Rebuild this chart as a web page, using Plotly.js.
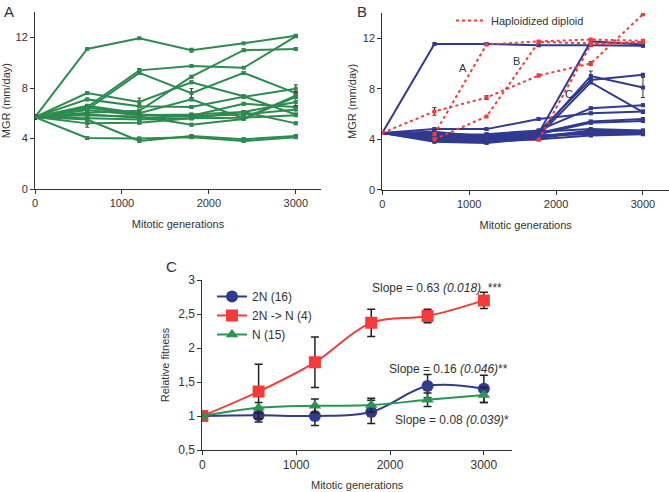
<!DOCTYPE html>
<html><head><meta charset="utf-8">
<script src="https://cdn.plot.ly/plotly-3.0.1.min.js"></script>
<style>html,body{margin:0;padding:0;background:#fff}#chart{width:669px;height:492px}</style>
</head><body><div id="chart"></div>
<script>
// ---------- data ----------
const generations = [0, 600, 1200, 1800, 2400, 3000];

// Panel A: haploid lines (N, 15), MGR mm/day
const haploidMGR = [
  [5.7, 11.1, 11.95, 11.0, 11.55, 12.15],
  [5.7, 6.5, 9.4, 9.75, 9.6, 12.1],
  [5.7, 6.3, 9.2, 7.6, 9.2, 7.6],
  [5.7, 6.05, 6.2, 8.9, 11.0, 11.1],
  [5.7, 7.6, 6.9, 8.45, 7.35, 5.9],
  [5.7, 7.1, 6.55, 6.5, 7.3, 7.95],
  [5.7, 6.6, 6.0, 7.1, 5.6, 7.4],
  [5.7, 6.45, 5.9, 5.8, 6.75, 6.5],
  [5.7, 6.25, 5.85, 5.9, 6.1, 6.9],
  [5.7, 5.9, 5.65, 5.75, 5.9, 6.3],
  [5.7, 5.85, 5.75, 5.1, 5.55, 7.3],
  [5.7, 5.6, 5.5, 5.6, 5.65, 5.85],
  [5.7, 5.2, 5.25, 5.6, 6.1, 5.2],
  [5.7, 5.5, 3.8, 4.2, 3.95, 4.2],
  [5.7, 4.05, 4.0, 4.1, 3.8, 4.1]
];
const haploidErr = [
  [0.15, 0.05, 0.05, 0.15, 0.05, 0.05],
  [0.15, 0.1, 0.15, 0.05, 0.05, 0.1],
  [0.15, 0.1, 0.1, 0.35, 0.1, 0.1],
  [0.15, 0.1, 0.1, 0.1, 0.1, 0.1],
  [0.15, 0.1, 0.3, 0.1, 0.1, 0.1],
  [0.15, 0.1, 0.1, 0.1, 0.1, 0.3],
  [0.15, 0.1, 0.1, 0.1, 0.1, 0.1],
  [0.15, 0.1, 0.1, 0.1, 0.1, 0.1],
  [0.15, 0.1, 0.1, 0.1, 0.1, 0.3],
  [0.15, 0.1, 0.1, 0.1, 0.1, 0.1],
  [0.15, 0.1, 0.1, 0.1, 0.1, 0.1],
  [0.15, 0.1, 0.1, 0.1, 0.1, 0.1],
  [0.15, 0.3, 0.1, 0.1, 0.1, 0.1],
  [0.15, 0.1, 0.1, 0.1, 0.1, 0.1],
  [0.15, 0.1, 0.1, 0.1, 0.1, 0.1]
];

// Panel B: diploid lines (2N, 16)
const diploidMGR = [
  [4.5, 11.55, 11.55, 11.45, 11.45, 11.4],
  [4.5, 4.4, 4.3, 4.5, 11.75, 11.5],
  [4.5, 4.1, 4.0, 4.4, 9.0, 8.1],
  [4.5, 4.2, 3.9, 4.6, 8.7, 9.1],
  [4.5, 4.0, 4.2, 4.3, 8.5, 6.15],
  [4.5, 4.8, 4.8, 5.6, 6.05, 6.2],
  [4.5, 4.3, 4.4, 4.7, 6.45, 6.7],
  [4.5, 4.6, 4.2, 4.5, 5.4, 5.6],
  [4.5, 4.4, 4.1, 4.4, 5.3, 5.45],
  [4.5, 4.0, 3.8, 4.2, 4.7, 4.6],
  [4.5, 3.8, 3.7, 4.1, 4.6, 4.55],
  [4.5, 4.3, 4.0, 4.3, 4.5, 4.5],
  [4.5, 4.2, 4.1, 4.3, 4.4, 4.45],
  [4.5, 3.9, 3.8, 4.0, 4.3, 4.4],
  [4.5, 4.5, 4.3, 4.6, 4.8, 4.7],
  [4.5, 4.1, 3.9, 4.2, 4.6, 4.5]
];
const diploidErr = [
  [0, 0.1, 0.1, 0.1, 0.1, 0.1],
  [0, 0.1, 0.1, 0.1, 0.1, 0.1],
  [0, 0.1, 0.1, 0.1, 0.4, 0.8],
  [0, 0.1, 0.1, 0.1, 0.1, 0.1],
  [0, 0.1, 0.1, 0.1, 0.1, 0.1],
  [0, 0.1, 0.1, 0.1, 0.1, 0.1],
  [0, 0.1, 0.1, 0.1, 0.1, 0.1],
  [0, 0.1, 0.1, 0.1, 0.1, 0.1],
  [0, 0.1, 0.1, 0.1, 0.1, 0.1],
  [0, 0.1, 0.1, 0.1, 0.1, 0.1],
  [0, 0.1, 0.1, 0.1, 0.1, 0.1],
  [0, 0.1, 0.1, 0.1, 0.1, 0.1],
  [0, 0.1, 0.1, 0.1, 0.1, 0.1],
  [0, 0.1, 0.1, 0.1, 0.1, 0.1],
  [0, 0.1, 0.1, 0.1, 0.1, 0.1],
  [0, 0.1, 0.1, 0.1, 0.1, 0.1]
];

// Panel B: haploidized diploids (diploid phase solid, haploid phase dotted)
const preA_x = [0, 600],               preA_y = [4.5, 4.4];
const preB_x = [0, 600],               preB_y = [4.5, 4.0];
const preC_x = [0, 600, 1200, 1800],   preC_y = [4.5, 4.25, 4.1, 3.95];
const hapA_x = [600, 1200, 1800, 2400, 3000], hapA_y = [4.4, 11.5, 11.75, 11.9, 11.8];
const hapB_x = [600, 1200, 1800, 2400, 3000], hapB_y = [4.0, 5.8, 11.7, 11.6, 11.7];
const hapC_x = [1800, 2400, 3000],     hapC_y = [3.95, 11.5, 11.7];
const hapD_x = [0, 600, 1200, 1800, 2400, 3000], hapD_y = [4.5, 6.2, 7.3, 9.05, 10.0, 13.9];
const hapD_err = [0, 0.3, 0.15, 0.1, 0.15, 0.1];
const hapLabels = ['A', 'B', 'C'];
const hapLabelX = [930, 1550, 2145];
const hapLabelY = [9.65, 10.2, 7.55];

// Panel C: relative fitness
const fit2N   = [1.0, 1.01, 1.0, 1.06, 1.44, 1.40];
const err2N   = [0, 0.1, 0.14, 0.17, 0.17, 0.2];
const fitHap  = [1.0, 1.36, 1.79, 2.37, 2.47, 2.70];
const errHap  = [0, 0.4, 0.37, 0.2, 0.1, 0.12];
const fitN    = [1.0, 1.12, 1.15, 1.16, 1.24, 1.31];
const errN    = [0, 0.08, 0.1, 0.1, 0.1, 0.11];
const fitNames = ['2N (16)', '2N -> N (4)', 'N (15)'];
const fitTickVals = [0.5, 1, 1.5, 2, 2.5, 3];
const fitTickText = ['0,5', '1', '1,5', '2', '2,5', '3'];

// ---------- styles ----------
const FONT = 'Liberation Sans, Arial, sans-serif';
const TXT = '#333';
const GREEN = '#2e8b4f';
const NAVY = '#313a8f';
const RED = '#f43a3a';
const ERRC = '#333';

const traces = [];

haploidMGR.forEach((ys, i) => {
  traces.push({
    x: generations, y: ys, xaxis: 'x', yaxis: 'y', type: 'scatter', mode: 'lines+markers',
    line: {color: GREEN, width: 2}, marker: {symbol: 'square', size: 4, color: GREEN},
    error_y: {type: 'data', array: haploidErr[i], color: ERRC, thickness: 1, width: 2},
    showlegend: false, hoverinfo: 'skip'
  });
});

[[preA_x, preA_y], [preB_x, preB_y], [preC_x, preC_y]].forEach(([xs, ys]) => {
  traces.push({x: xs, y: ys, xaxis: 'x2', yaxis: 'y2', mode: 'lines',
    line: {color: RED, width: 2}, showlegend: false, hoverinfo: 'skip'});
});

diploidMGR.forEach((ys, i) => {
  traces.push({
    x: generations, y: ys, xaxis: 'x2', yaxis: 'y2', type: 'scatter', mode: 'lines+markers',
    line: {color: NAVY, width: 2}, marker: {symbol: 'square', size: 4, color: NAVY},
    error_y: {type: 'data', array: diploidErr[i], color: ERRC, thickness: 1, width: 2},
    showlegend: false, hoverinfo: 'skip'
  });
});

[[hapA_x, hapA_y, null], [hapB_x, hapB_y, null], [hapC_x, hapC_y, null], [hapD_x, hapD_y, hapD_err]].forEach(([xs, ys, e]) => {
  const t = {x: xs, y: ys, xaxis: 'x2', yaxis: 'y2', mode: 'lines+markers',
    line: {color: RED, width: 2, dash: 'dot'}, marker: {symbol: 'square', size: 4, color: RED},
    showlegend: false, hoverinfo: 'skip'};
  if (e) t.error_y = {type: 'data', array: e, color: ERRC, thickness: 1, width: 2};
  traces.push(t);
});
// legend-only entry (no data) for panel B
traces.push({x: [null], y: [null], xaxis: 'x2', yaxis: 'y2', mode: 'lines', name: 'Haploidized diploid',
  line: {color: RED, width: 2, dash: 'dot'}, legend: 'legend2', showlegend: true, hoverinfo: 'skip'});

const cSeries = [
  {y: fit2N, e: err2N, color: NAVY, sym: 'circle', size: 12},
  {y: fitHap, e: errHap, color: RED, sym: 'square', size: 12},
  {y: fitN, e: errN, color: '#2a9550', sym: 'triangle-up', size: 11}
];
cSeries.forEach((s, i) => {
  traces.push({
    x: generations, y: s.y, xaxis: 'x3', yaxis: 'y3', mode: 'lines+markers', name: fitNames[i],
    line: {color: s.color, width: 2, shape: 'spline', smoothing: 1},
    marker: {symbol: s.sym, size: s.size, color: s.color},
    error_y: {type: 'data', array: s.e, color: '#222', thickness: 1.5, width: 4},
    legend: 'legend', hoverinfo: 'skip'
  });
});

function axisBase(extra) {
  return Object.assign({
    showgrid: false, zeroline: false, showline: true, linecolor: TXT, linewidth: 1,
    ticks: 'outside', ticklen: 4, tickcolor: TXT, tickfont: {family: FONT, size: 11, color: TXT},
    fixedrange: true
  }, extra);
}
const xTitle = {text: 'Mitotic generations', font: {family: FONT, size: 11, color: TXT}, standoff: 12};
const xTitleC = {text: 'Mitotic generations', font: {family: FONT, size: 11, color: TXT}, standoff: 9};
const yTitleMGR = {text: 'MGR (mm/day)', font: {family: FONT, size: 11, color: TXT}, standoff: 3};

const layout = {
  width: 669, height: 492,
  margin: {l: 0, r: 0, t: 0, b: 0},
  paper_bgcolor: '#fff', plot_bgcolor: 'rgba(0,0,0,0)',
  font: {family: FONT, color: TXT},
  xaxis: axisBase({domain: [35/669, 321/669], range: [0, 3290], tickvals: [0, 1000, 2000, 3000], anchor: 'y', title: xTitle}),
  yaxis: axisBase({domain: [303/492, 479.7/492], range: [0, 14], tickvals: [0, 4, 8, 12], anchor: 'x', title: yTitleMGR}),
  xaxis2: axisBase({domain: [382.3/669, 1], range: [0, 3300], tickvals: [0, 1000, 2000, 3000], anchor: 'y2', title: xTitle}),
  yaxis2: axisBase({domain: [302.3/492, 479/492], range: [0, 14], tickvals: [0, 4, 8, 12], anchor: 'x2', title: yTitleMGR}),
  xaxis3: axisBase({domain: [202.3/669, 512/669], range: [0, 3300], tickvals: [0, 1000, 2000, 3000], anchor: 'y3',
    tickfont: {family: FONT, size: 12, color: TXT}, title: xTitleC}),
  yaxis3: axisBase({domain: [42/492, 212/492], range: [0.5, 3], tickvals: fitTickVals, ticktext: fitTickText, anchor: 'x3',
    tickfont: {family: FONT, size: 12, color: TXT},
    title: {text: 'Relative fitness', font: {family: FONT, size: 11, color: TXT}, standoff: 6}}),
  showlegend: true,
  legend: {x: 212/669, y: 1 - 282/492, xanchor: 'left', yanchor: 'top', bgcolor: 'rgba(0,0,0,0)',
    font: {family: FONT, size: 12, color: TXT}, itemwidth: 30, tracegroupgap: 0},
  legend2: {x: 451/669, y: 1 - 6/492, xanchor: 'left', yanchor: 'top', bgcolor: 'rgba(0,0,0,0)',
    font: {family: FONT, size: 11, color: TXT}, itemwidth: 30},
  annotations: [
    {text: 'A', xref: 'paper', yref: 'paper', x: 2/669, y: 1 - 1/492, xanchor: 'left', yanchor: 'top', showarrow: false, font: {family: FONT, size: 15, color: TXT}},
    {text: 'B', xref: 'paper', yref: 'paper', x: 355/669, y: 1 - 1/492, xanchor: 'left', yanchor: 'top', showarrow: false, font: {family: FONT, size: 15, color: TXT}},
    {text: 'C', xref: 'paper', yref: 'paper', x: 164/669, y: 1 - 256/492, xanchor: 'left', yanchor: 'top', showarrow: false, font: {family: FONT, size: 15, color: TXT}},
    {text: 'Slope = 0.63 <i>(0.018)</i>  ***', xref: 'x3', yref: 'y3', x: 2500, y: 2.88, xanchor: 'center', showarrow: false, font: {family: FONT, size: 12, color: TXT}},
    {text: 'Slope = 0.16 <i>(0.046)</i>**', xref: 'x3', yref: 'y3', x: 2620, y: 1.69, xanchor: 'center', showarrow: false, font: {family: FONT, size: 12, color: TXT}},
    {text: 'Slope = 0.08 <i>(0.039)</i>*', xref: 'x3', yref: 'y3', x: 2660, y: 0.94, xanchor: 'center', showarrow: false, font: {family: FONT, size: 12, color: TXT}}
  ].concat(hapLabels.map((t, i) => ({
    text: t, xref: 'x2', yref: 'y2', x: hapLabelX[i], y: hapLabelY[i], showarrow: false,
    font: {family: FONT, size: 11, color: TXT}
  })))
};

Plotly.newPlot('chart', traces, layout, {staticPlot: true, displayModeBar: false});
</script>
</body></html>
